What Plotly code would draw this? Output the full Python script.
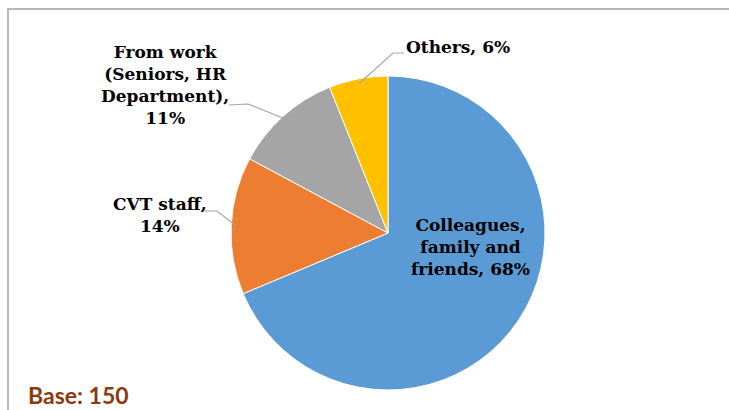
import math
import plotly.graph_objects as go

# Source of information about the programme
categories = ["Colleagues, family and friends", "CVT staff",
              "From work (Seniors, HR Department)", "Others"]
values = [68, 14, 11, 6]
label_texts = ["Colleagues,<br>family and<br>friends, 68%", "CVT staff,<br>14%",
               "From work<br>(Seniors, HR<br>Department),<br>11%", "Others, 6%"]
colors = ["#5B9BD5", "#ED7D31", "#A5A5A5", "#FFC000"]

W, H = 729, 410
cx, cy, r = 388, 233, 157  # pie centre and radius in pixels


def px(x):
    return x / W


def py(y):
    return 1 - y / H


fig = go.Figure(go.Pie(
    labels=categories, values=values, sort=False, direction="clockwise",
    rotation=0, marker=dict(colors=colors, line=dict(color="white", width=1)),
    textinfo="none", hoverinfo="label+percent", showlegend=False,
    domain=dict(x=[px(cx - r), px(cx + r)], y=[py(cy + r), py(cy - r)]),
))

# mid-angle of each slice (clockwise from 12 o'clock)
total = sum(values)
mids = []
acc = 0
for v in values:
    mids.append((acc + v / 2) / total * 2 * math.pi)
    acc += v


def edge(i, k=1.0):
    a = mids[i]
    return cx + k * r * math.sin(a), cy - k * r * math.cos(a)


font = dict(family="DejaVu Serif", size=17, color="#000000")
# label centres (pixels) and leader elbow/end points
label_pos = [(470, 247), (160, 215), (165, 85), (458, 47)]
leaders = [None,
           [(205, 211), (217, 211)],
           [(229, 105), (248, 104)],
           [(404, 53), (393, 53)]]

annotations = []
shapes = []
for i, txt in enumerate(label_texts):
    x, y = label_pos[i]
    bold = "<br>".join(f"<b>{part}</b>" for part in txt.split("<br>"))
    annotations.append(dict(text=bold, x=px(x), y=py(y), xref="paper", yref="paper",
                            xanchor="center", yanchor="middle", showarrow=False,
                            font=font, align="center"))
    if leaders[i]:
        ex, ey = edge(i, 0.97)
        pts = leaders[i] + [(ex, ey)]
        path = "M " + " L ".join(f"{px(a)},{py(b)}" for a, b in pts)
        shapes.append(dict(type="path", path=path, xref="paper", yref="paper",
                           line=dict(color="#A6A6A6", width=1.2)))

# outer frame
shapes.append(dict(type="rect", x0=px(8), x1=px(760), y0=py(440), y1=py(9),
                   xref="paper", yref="paper", line=dict(color="#A0A0A0", width=1.5),
                   layer="below"))

annotations.append(dict(text="<b>Base: 150</b>", x=px(26), y=py(395), xref="paper",
                        yref="paper", xanchor="left", yanchor="middle", showarrow=False,
                        font=dict(family="Lato", size=23, color="#8B3A0F")))

fig.update_layout(width=W, height=H, margin=dict(l=0, r=0, t=0, b=0),
                  paper_bgcolor="white", plot_bgcolor="white",
                  annotations=annotations, shapes=shapes)

fig.write_html("out.html")
